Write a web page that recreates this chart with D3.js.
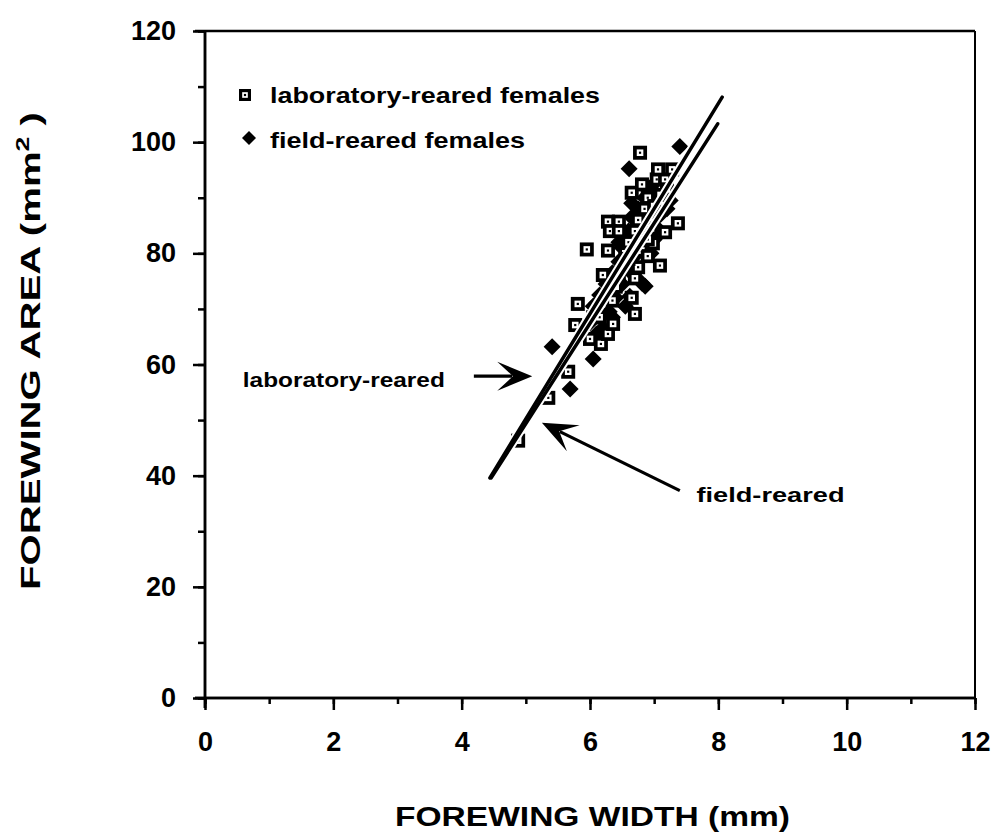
<!DOCTYPE html>
<html><head><meta charset="utf-8">
<script src="https://cdn.jsdelivr.net/npm/d3@7/dist/d3.min.js"></script>
<style>body{margin:0;background:#fff}svg{display:block}text{font-family:"Liberation Sans",Arial,Helvetica,sans-serif;font-weight:bold;fill:#000}</style>
</head><body>
<script>
// ---- data ----
const xTicks = [0, 2, 4, 6, 8, 10, 12];
const yTicks = [0, 20, 40, 60, 80, 100, 120];
const labPoints = [
  [4.88,46.3],[5.35,54.0],[5.66,58.7],[5.77,67.1],[5.81,70.9],[6.0,64.6],[6.17,63.7],[6.28,65.5],
  [6.36,67.3],[6.70,69.1],[6.20,76.1],[6.70,75.5],[6.75,77.5],[7.09,77.8],[5.95,80.7],[6.28,80.5],
  [6.98,81.8],[7.17,83.8],[7.37,85.4],[6.28,85.7],[6.45,85.7],[6.31,84.0],[6.45,84.0],[6.65,90.9],
  [6.81,92.4],[7.04,93.3],[7.17,93.3],[7.06,95.1],[7.28,95.1],[6.78,98.1],
  [6.05,68.5],[6.10,70.0],[6.25,72.0],[6.40,74.0],[6.50,78.0],[6.55,80.0],[6.60,82.0],[6.70,84.0],
  [6.75,86.0],[6.85,88.0],[6.90,90.0],[7.00,88.5],[6.95,84.5],[6.60,79.0],[6.45,76.5],[6.35,71.5],
  [6.15,68.5],[6.90,82.5],[7.10,90.5],[7.20,91.5],[6.80,80.5],[6.65,72.0],[6.90,79.5]
];
const fieldPoints = [
  [6.05,70.5],[6.15,72.5],[6.25,74.5],[6.35,76.5],[6.45,78.5],[6.50,81.0],[6.60,84.0],[6.70,86.0],
  [6.75,88.0],[6.85,90.0],[6.95,92.0],[6.40,72.0],[6.50,74.5],[6.60,77.0],[6.70,79.5],[6.80,82.0],
  [6.90,85.0],[7.00,87.5],[6.20,66.5],[6.35,68.5],[6.55,70.5],[6.10,65.5],[7.00,82.5],[6.65,89.0],
  [5.41,63.2],[5.69,55.6],[6.05,61.0],[6.62,72.3],[6.81,74.6],[6.86,74.1],[6.61,95.2],[7.40,99.2],
  [6.10,71.0],[6.20,69.0],[6.30,73.0],[6.40,76.0],[6.50,79.0],[6.55,77.5],[6.60,81.5],[6.70,83.0],
  [6.75,85.0],[6.80,87.5],[6.90,89.0],[7.00,91.0],[7.10,87.0],[7.20,88.0],[6.95,80.0],[6.85,83.5],
  [6.00,67.5],[6.45,82.0],[6.65,86.5],[7.05,84.5],[6.30,69.5],[7.25,89.5]
];
// regression lines: [x0,y0,x1,y1]
const labLine = [4.44, 39.6, 8.06, 108.1];
const fieldLine = [4.46, 39.6, 7.99, 103.3];
const legendItems = ["laboratory-reared females", "field-reared females"];
// annotations: label, label position, arrow tail, arrow tip (data units)
const annotations = [
  {text:"laboratory-reared", at:[0.59,56.0], tail:[4.19,57.9], tip:[5.10,57.9], len:202},
  {text:"field-reared", at:[7.66,35.2], tail:[7.40,37.3], tip:[5.25,49.5], len:148}
];
const xTitle = "FOREWING WIDTH (mm)";

// ---- chart ----
const W = 998, H = 837;
const svg = d3.select("body").append("svg").attr("width", W).attr("height", H);
const x = d3.scaleLinear().domain([0, 12]).range([205, 975]);
const y = d3.scaleLinear().domain([0, 120]).range([698, 31]);
const FONT = '"Liberation Sans",Arial,sans-serif';

// frame top/right
svg.append("line").attr("x1", x(0) - 10).attr("x2", x(12)).attr("y1", y(120)).attr("y2", y(120)).attr("stroke","#000").attr("stroke-width",2.5);
svg.append("line").attr("x1", x(12)).attr("x2", x(12)).attr("y1", y(120)).attr("y2", y(0)).attr("stroke","#000").attr("stroke-width",2);

// x axis
const gx = svg.append("g").attr("transform", `translate(0,${y(0)})`);
gx.call(d3.axisBottom(x).tickValues(d3.range(0, 13, 1)).tickSize(6).tickFormat(""));
const gx2 = svg.append("g").attr("transform", `translate(0,${y(0)})`);
gx2.call(d3.axisBottom(x).tickValues(xTicks).tickSize(12).tickFormat(d3.format("d")).tickPadding(22));
[gx, gx2].forEach(g => { g.select(".domain").attr("stroke-width", 2.5).attr("d", `M${x(0)-10},0H${x(12)}`); g.selectAll(".tick line").attr("stroke-width", 2.5); });
gx2.selectAll("text").style("font-size","27px").style("font-family",FONT).style("font-weight","bold");

// y axis
const gy = svg.append("g").attr("transform", `translate(${x(0)},0)`);
gy.call(d3.axisLeft(y).tickValues(d3.range(0, 121, 10)).tickSize(7).tickFormat(""));
const gy2 = svg.append("g").attr("transform", `translate(${x(0)},0)`);
gy2.call(d3.axisLeft(y).tickValues(yTicks).tickSize(12).tickFormat(d3.format("d")).tickPadding(17));
[gy, gy2].forEach(g => { g.select(".domain").attr("stroke-width", 2.5).attr("d", `M0,${y(0)+10}V${y(120)}`); g.selectAll(".tick line").attr("stroke-width", 2.5); });
gy2.selectAll("text").style("font-size","27px").style("font-family",FONT).style("font-weight","bold");

// axis titles
svg.append("text").attr("x", 395).attr("y", 826)
  .attr("textLength", 395).attr("lengthAdjust","spacingAndGlyphs")
  .style("font-size","27px").text(xTitle);
const yt = svg.append("text").attr("transform","translate(40,590) rotate(-90)")
  .attr("textLength", 478).attr("lengthAdjust","spacingAndGlyphs")
  .style("font-size","27px");
yt.append("tspan").text("FOREWING AREA (mm");
yt.append("tspan").attr("dy",-11).style("font-size","18px").text("2");
yt.append("tspan").attr("dy",11).text(" )");

// markers
const sq = (g, d, s) => {
  const h = s / 2;
  g.append("rect").attr("x", x(d[0]) - h).attr("y", y(d[1]) - h).attr("width", s).attr("height", s).attr("fill","#000");
  g.append("rect").attr("x", x(d[0]) - h * 0.47).attr("y", y(d[1]) - h * 0.47).attr("width", s * 0.47).attr("height", s * 0.47).attr("fill","#fff");
  g.append("rect").attr("x", x(d[0]) - 1.1).attr("y", y(d[1]) - 1.1).attr("width", 2.2).attr("height", 2.2).attr("fill","#000");
};
const dia = (g, d, r) => {
  g.append("path").attr("d", `M${x(d[0])},${y(d[1])-r}L${x(d[0])+r},${y(d[1])}L${x(d[0])},${y(d[1])+r}L${x(d[0])-r},${y(d[1])}Z`).attr("fill","#000");
};
const gp = svg.append("g");
fieldPoints.forEach(d => dia(gp, d, 8.5));
labPoints.forEach(d => sq(gp, d, 14));

// regression lines with white halo
const lines = [labLine, fieldLine];
lines.forEach(l => svg.append("line").attr("x1", x(l[0])).attr("y1", y(l[1])).attr("x2", x(l[2])).attr("y2", y(l[3]))
  .attr("stroke","#fff").attr("stroke-width",7.5));
lines.forEach(l => svg.append("line").attr("x1", x(l[0])).attr("y1", y(l[1])).attr("x2", x(l[2])).attr("y2", y(l[3]))
  .attr("stroke","#000").attr("stroke-width",3.5).attr("stroke-linecap","round"));

// legend
const lg = svg.append("g");
sq(lg, [x.invert(245), y.invert(95)], 12);
dia(lg, [x.invert(249), y.invert(138)], 7);
const legLens = [330, 255];
legendItems.forEach((t, i) => {
  lg.append("text").attr("x", 270).attr("y", 103 + i * 45)
    .attr("textLength", legLens[i]).attr("lengthAdjust","spacingAndGlyphs")
    .style("font-size","22px").text(t);
});

// annotations
annotations.forEach(a => {
  svg.append("text").attr("x", x(a.at[0])).attr("y", y(a.at[1]))
    .attr("textLength", a.len).attr("lengthAdjust","spacingAndGlyphs")
    .style("font-size","20px").text(a.text);
  const tx = x(a.tail[0]), ty = y(a.tail[1]), px = x(a.tip[0]), py = y(a.tip[1]);
  const len = Math.hypot(px - tx, py - ty), ux = (px - tx) / len, uy = (py - ty) / len, nx = -uy, ny = ux;
  const L = 35, w = 14.5;
  svg.append("line").attr("x1", tx).attr("y1", ty).attr("x2", px - ux * 20).attr("y2", py - uy * 20).attr("stroke","#000").attr("stroke-width",3.2);
  const p = [[px, py], [px - ux*L + nx*w, py - uy*L + ny*w], [px - ux*L*0.55, py - uy*L*0.55], [px - ux*L - nx*w, py - uy*L - ny*w]];
  svg.append("path").attr("d", "M" + p.map(q => q.join(",")).join("L") + "Z").attr("fill","#000");
});
</script>
</body></html>
